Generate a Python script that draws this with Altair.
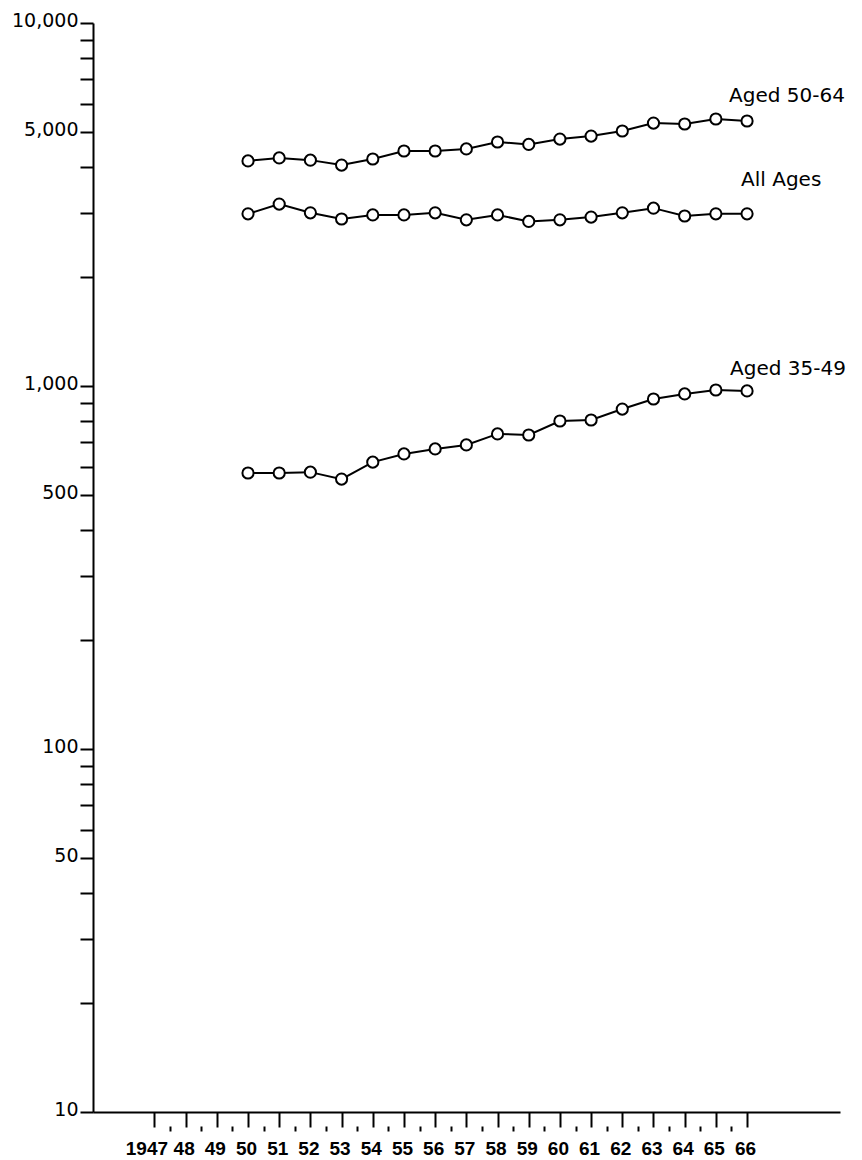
import altair as alt
import pandas as pd

# ---- data ----
years = list(range(1950, 1967))
aged_50_64 = [4170, 4250, 4190, 4060, 4220, 4440, 4440, 4500, 4700, 4630, 4790, 4880, 5040, 5300, 5270, 5440, 5370]
all_ages = [2980, 3170, 3000, 2885, 2960, 2960, 3000, 2870, 2960, 2840, 2870, 2920, 3000, 3090, 2940, 2980, 2980]
aged_35_49 = [576, 576, 579, 554, 617, 650, 671, 688, 738, 733, 801, 806, 864, 921, 951, 975, 969]
series_names = ["Aged 50-64", "All Ages", "Aged 35-49"]

x_tick_years = list(range(1947, 1967))
x_tick_labels = ["1947", "48", "49", "50", "51", "52", "53", "54", "55", "56",
                 "57", "58", "59", "60", "61", "62", "63", "64", "65", "66"]
x_minor_ticks = [y + 0.5 for y in range(1947, 1966)]
y_tick_values = [10, 20, 30, 40, 50, 60, 70, 80, 90,
                 100, 200, 300, 400, 500, 600, 700, 800, 900,
                 1000, 2000, 3000, 4000, 5000, 6000, 7000, 8000, 9000, 10000]
y_labelled = [10, 50, 100, 500, 1000, 5000, 10000]

rows = []
for name, vals in zip(series_names, [aged_50_64, all_ages, aged_35_49]):
    for yr, v in zip(years, vals):
        rows.append({"series": name, "year": yr, "value": v})
df = pd.DataFrame(rows)
last_df = df[df["year"] == years[-1]].reset_index(drop=True)

xscale = alt.Scale(domain=[1945.03, 1968.98], nice=False, zero=False)
yscale = alt.Scale(type="log", domain=[10, 10000], nice=False)

label_arr = "[" + ",".join("'" + s + "'" for s in x_tick_labels) + "]"
x_label_expr = f"{label_arr}[round(datum.value) - {x_tick_years[0]}]"
y_label_expr = "indexof([" + ",".join(str(v) for v in y_labelled) + "], datum.value) >= 0 ? format(datum.value, ',') : ''"

x_axis = alt.Axis(values=x_tick_years, labelExpr=x_label_expr, title=None, grid=False,
                  tickSize=15, tickWidth=2, tickColor="black", domainColor="black", domainWidth=2,
                  labelFont="Liberation Sans", labelFontSize=19, labelFontWeight="bold",
                  labelColor="black", labelPadding=12,
                  labelOffset={"condition": {"test": f"datum.value == {x_tick_years[0]}", "value": -8},
                               "value": -2},
                  labelFlush=False, labelOverlap=False)
y_axis = alt.Axis(values=y_tick_values, labelExpr=y_label_expr, title=None, grid=False,
                  tickSize=13, tickWidth=2, tickColor="black", domainColor="black", domainWidth=2,
                  labelFont="DejaVu Sans", labelFontSize=19, labelColor="black", labelPadding=2,
                  labelBaseline="middle", labelOffset=-3, labelFlush=False, labelOverlap=False)

base = alt.Chart(df)
lines = base.mark_line(color="black", strokeWidth=2).encode(
    x=alt.X("year:Q", scale=xscale, axis=x_axis),
    y=alt.Y("value:Q", scale=yscale, axis=y_axis),
    detail="series:N",
)
points = base.mark_point(shape="circle", filled=False, fill="white", fillOpacity=1,
                         stroke="black", strokeWidth=2, size=125, opacity=1).encode(
    x=alt.X("year:Q", scale=xscale, axis=None),
    y=alt.Y("value:Q", scale=yscale),
)

label_offsets = {"Aged 50-64": (-18, -19), "All Ages": (-6, -28), "Aged 35-49": (-17, -16)}
label_layers = []
for name in series_names:
    dx, dy = label_offsets[name]
    label_layers.append(
        alt.Chart(last_df).transform_filter(alt.datum.series == name).mark_text(
            align="left", baseline="alphabetic", dx=dx, dy=dy, font="DejaVu Sans",
            fontSize=20, color="black").encode(
            x=alt.X("year:Q", scale=xscale, axis=None),
            y=alt.Y("value:Q", scale=yscale),
            text="series:N",
        )
    )

minor_df = pd.DataFrame({"year": x_minor_ticks})
minor = alt.Chart(minor_df).mark_point(opacity=0).encode(
    x=alt.X("year:Q", scale=xscale,
            axis=alt.Axis(values=x_minor_ticks, orient="bottom", offset=14, tickSize=5,
                          tickWidth=2, tickColor="black", domain=False, labels=False,
                          grid=False, title=None)),
    y=alt.value(0),
)

chart = alt.layer(lines, points, *label_layers, minor).resolve_axis(x="independent").properties(
    width=747, height=1089,
    padding={"left": 93, "top": 23, "right": 22, "bottom": 48},
    autosize=alt.AutoSizeParams(type="none"),
    background="white",
).configure_view(stroke=None)

chart.save("out.html", embed_options={"renderer": "svg", "actions": False})
